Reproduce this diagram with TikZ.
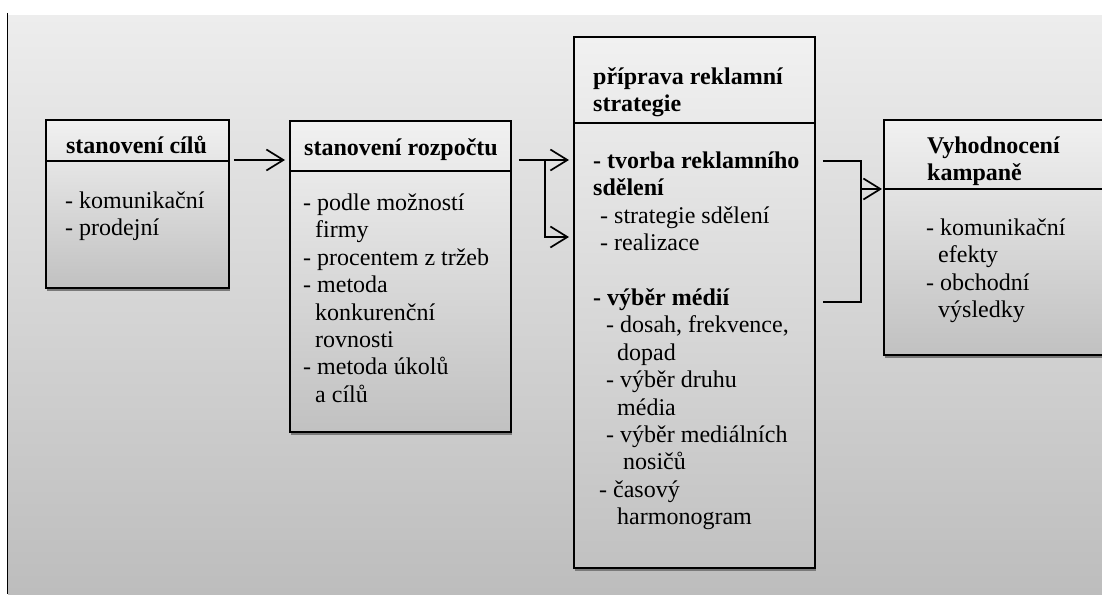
\documentclass[tikz,border=0pt]{standalone}
\usepackage{fontspec}
\setmainfont{Liberation Serif}
\usetikzlibrary{arrows.meta,shadows}

\definecolor{bgtop}{HTML}{EDEDED}
\definecolor{bgbot}{HTML}{BDBDBD}
\definecolor{boxtop}{HTML}{F1F1F1}
\definecolor{boxbot}{HTML}{C1C1C1}
\definecolor{shadowgray}{HTML}{7A7A7A}

% multi-line text block whose baseline is that of its first line
\newcommand\linesbox[1]{\parbox[t]{320pt}{\raggedright #1}}
\newcommand\ind[1]{\hspace*{#1pt}}

\begin{document}
\begin{tikzpicture}[x=1pt,y=-1pt,
  font=\fontsize{24pt}{27.4pt}\selectfont,
  stepbox/.style={draw=black, line width=1.8pt, top color=boxtop, bottom color=boxbot,
    anchor=north west, inner sep=0pt,
    drop shadow={shadow xshift=1.5pt, shadow yshift=-3pt, fill=shadowgray, opacity=1}},
  divider/.style={line width=1.8pt},
  conn/.style={line width=1.7pt},
  arr/.style={conn, -{Straight Barb[length=17pt,width=21pt,line width=1.7pt]}},
  txt/.style={anchor=base west, inner sep=0pt},
  head/.style={anchor=base west, inner sep=0pt, font=\fontsize{24pt}{27.4pt}\selectfont\bfseries}]

% page and grey backdrop
\clip (0,0) rectangle (1102,594);
\fill[white] (0,0) rectangle (1102,594);
\shade[top color=bgtop, bottom color=bgbot] (8,16) rectangle (1102,594);
\draw[line width=1.8pt] (7.5,13) -- (7.5,594);

% the four stages
\node[stepbox, minimum width=183pt, minimum height=168pt] (b1) at (45,119) {};
\node[stepbox, minimum width=221pt, minimum height=311pt] (b2) at (289,120) {};
\node[stepbox, minimum width=241pt, minimum height=531pt] (b3) at (573,36) {};
\node[stepbox, minimum width=227pt, minimum height=235pt] (b4) at (883,119) {};

% header separators
\draw[divider] ([yshift=-42pt]b1.north west) -- ([yshift=-42pt]b1.north east);
\draw[divider] ([yshift=-51pt]b2.north west) -- ([yshift=-51pt]b2.north east);
\draw[divider] ([yshift=-87pt]b3.north west) -- ([yshift=-87pt]b3.north east);
\draw[divider] ([yshift=-70pt]b4.north west) -- ([yshift=-70pt]b4.north east);

% texts
\node[head, anchor=base] (h1) at (136.5,153.5) {stanovení cílů};
\node[txt] (t1) at (65,208.4) {\linesbox{- komunikační\\- prodejní}};

\node[head] (h2) at (304,155.4) {stanovení rozpočtu};
\node[txt] (t2) at (303,210.4) {\linesbox{- podle možností\\\ind{12}firmy\\- procentem z tržeb\\- metoda\\\ind{12}konkurenční\\\ind{12}rovnosti\\- metoda úkolů\\\ind{12}a cílů}};

\node[head] (h3) at (593,84) {\linesbox{příprava reklamní\\strategie}};
\node[txt] (t3) at (593,168.5) {\linesbox{\textbf{- tvorba reklamního}\\\textbf{sdělení}\\\ind{7}- strategie sdělení\\\ind{7}- realizace\\[27.4pt]\textbf{- výběr médií}\\\ind{13}- dosah, frekvence,\\\ind{24}dopad\\\ind{13}- výběr druhu\\\ind{24}média\\\ind{13}- výběr mediálních\\\ind{30}nosičů\\\ind{6}- časový\\\ind{24}harmonogram}};

\node[head] (h4) at (927,153.5) {\linesbox{Vyhodnocení\\kampaně}};
\node[txt] (t4) at (926,235.5) {\linesbox{- komunikační\\\ind{12}efekty\\- obchodní\\\ind{12}výsledky}};

% connectors
\draw[arr] ([xshift=4pt,yshift=-41pt]b1.north east) -- ([xshift=-4pt,yshift=-40pt]b2.north west);

\coordinate (s2) at ([xshift=7pt,yshift=-40pt]b2.north east);
\coordinate (br) at ([xshift=33pt,yshift=-40pt]b2.north east);
\draw[arr] (s2) -- ([xshift=-4pt,yshift=-124pt]b3.north west);
\draw[arr] (br) |- ([xshift=-4pt,yshift=-201pt]b3.north west);

\coordinate (m1) at ([xshift=7pt,yshift=-125pt]b3.north east);
\coordinate (m2) at ([xshift=7pt,yshift=-266pt]b3.north east);
\coordinate (mj) at ([xshift=38pt]m1);
\coordinate (mid) at ([xshift=38pt,yshift=-28pt]m1);
\draw[conn] (m1) -| (mj |- m2) -- (m2);
\draw[arr] (mid) -- ([xshift=-1pt,yshift=-70pt]b4.north west);

\end{tikzpicture}
\end{document}
